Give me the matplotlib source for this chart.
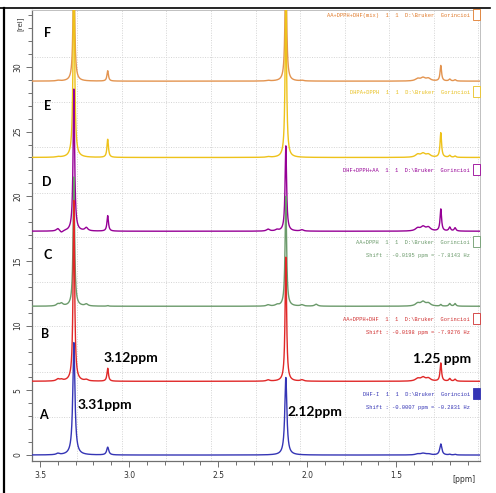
import numpy as np
import matplotlib
matplotlib.use("Agg")
import matplotlib.pyplot as plt
from matplotlib.lines import Line2D
from matplotlib.patches import Rectangle
import matplotlib.transforms as mtransforms

# peak table (ppm, height above baseline per trace)
peak_ppm = [3.40, 3.38, 3.31, 3.24, 3.12, 2.22, 2.17, 2.12, 2.03, 1.95, 1.38, 1.35, 1.32, 1.25, 1.20, 1.17]
peak_width = [0.010, 0.010, 0.005, 0.010, 0.005, 0.010, 0.010, 0.005, 0.010, 0.010, 0.015, 0.015, 0.015, 0.005, 0.006, 0.006]
width_A = [0.010, 0.010, 0.007, 0.010, 0.007, 0.010, 0.010, 0.007, 0.010, 0.010, 0.015, 0.015, 0.015, 0.007, 0.006, 0.006]

height_A = [0.10, 0.00, 8.7, 0.00, 0.60, 0.00, 0.00, 6.0, 0.00, 0.00, 0.08, 0.12, 0.08, 0.85, 0.05, 0.05]
height_B = [0.15, 0.10, 14.0, 0.10, 1.00, 0.10, 0.00, 9.6, 0.10, 0.00, 0.20, 0.28, 0.22, 1.40, 0.20, 0.15]
height_C = [0.15, 0.20, 10.0, 0.15, 0.05, 0.10, 0.10, 8.5, 0.10, 0.15, 0.22, 0.32, 0.22, 0.12, 0.20, 0.20]
height_D = [0.20, -0.15, 11.0, 0.25, 1.20, 0.15, 0.10, 6.6, 0.10, 0.00, 0.22, 0.32, 0.28, 1.70, 0.30, 0.25]
height_E = [0.05, 0.00, 15.0, 0.00, 1.40, 0.05, 0.00, 12.0, 0.00, 0.00, 0.22, 0.28, 0.22, 1.90, 0.15, 0.10]
height_F = [0.05, 0.00, 10.0, 0.00, 0.80, 0.05, 0.00, 10.0, 0.05, 0.00, 0.18, 0.24, 0.20, 1.20, 0.15, 0.10]

baselines = [0.0, 5.7, 11.5, 17.3, 23.0, 28.9]
panel_names = ["A", "B", "C", "D", "E", "F"]
sample_names = ["DHF-I", "AA+DPPH+DHF", "AA+DPPH", "DHF+DPPH+AA", "DHPA+DPPH", "AA+DPPH+DHF(mix)"]
shift_text = ["Shift : -0.0007 ppm = -0.2831 Hz", "Shift : -0.0198 ppm = -7.9276 Hz",
              "Shift : -0.0195 ppm = -7.8143 Hz", None, None, None]
colors = ["#3535b5", "#e02828", "#6b9a6b", "#960096", "#eec21a", "#e39450"]
text_colors = ["#3535b5", "#d03030", "#6b9a6b", "#960096", "#e8c020", "#e07a2a"]

heights = [height_A, height_B, height_C, height_D, height_E, height_F]
widths = [width_A, peak_width, peak_width, peak_width, peak_width, peak_width]

ppm = np.linspace(3.6, 0.95, 6000)


def spectrum(h, w):
    y = np.zeros_like(ppm)
    for p, a, g in zip(peak_ppm, h, w):
        y += a * g ** 2 / ((ppm - p) ** 2 + g ** 2)
    return y


fig = plt.figure(figsize=(4.96, 4.93), dpi=100)
ax = fig.add_axes([32 / 496, 32 / 493, 448 / 496, 451 / 493])

# Bruker style dotted grid
for gx in [3.29, 3.04, 2.79, 2.54, 2.29, 2.04, 1.79, 1.54, 1.29, 1.04]:
    ax.axvline(gx, color="#d4d4d4", ls=(0, (1, 1.5)), lw=0.7, zorder=0)
for gy in [2.94, 6.41, 9.97, 13.37, 16.85, 20.25, 23.8, 27.3, 30.8]:
    ax.axhline(gy, color="#d4d4d4", ls=(0, (1, 1.5)), lw=0.7, zorder=0)

for i in range(6):
    y = baselines[i] + spectrum(heights[i], widths[i])
    ax.plot(ppm, y, color=colors[i], lw=1.0, zorder=10 - i)

ax.set_xlim(3.545, 1.03)
ax.set_ylim(-0.46, 34.4)

ax.set_xticks([3.5, 3.0, 2.5, 2.0, 1.5])
ax.set_xticklabels(["3.5", "3.0", "2.5", "2.0", "1.5"])
ax.set_xticks(np.arange(1.1, 3.55, 0.1), minor=True)
ax.set_yticks([0, 5, 10, 15, 20, 25, 30])
ax.set_yticks(np.arange(0, 35, 1), minor=True)
ax.tick_params(axis="both", which="both", direction="out", color="#707070", width=0.7)
ax.tick_params(axis="both", which="major", length=4, labelsize=5.5, labelcolor="#303030", pad=3)
ax.tick_params(axis="both", which="minor", length=3)
for lab in ax.get_yticklabels():
    lab.set_rotation(90)
    lab.set_va("center")

for s in ["left", "bottom"]:
    ax.spines[s].set_color("#707070")
    ax.spines[s].set_linewidth(0.9)
for s in ["top", "right"]:
    ax.spines[s].set_color("#c0c0c0")
    ax.spines[s].set_linewidth(0.7)

ax.text(-0.02, 0.985, "[rel]", transform=ax.transAxes, rotation=90, fontsize=5,
        color="#303030", ha="right", va="top")
ax.text(0.965, -0.032, "[ppm]", transform=ax.transAxes, fontsize=5.5,
        color="#303030", ha="center", va="top")

narrow = ["Lato", "DejaVu Sans"]
letter_pos = [(3.483, 3.1), (3.47, 9.35), (3.455, 15.5), (3.465, 21.1), (3.46, 27.0), (3.46, 32.6)]
for name, (lx, ly) in zip(panel_names, letter_pos):
    ax.text(lx, ly, name, fontsize=9, fontweight="bold", family=narrow,
            ha="center", va="center", zorder=20)

ppm_labels = ["3.31ppm", "3.12ppm", "2.12ppm", "1.25 ppm"]
ppm_label_x = [3.135, 2.989, 1.955, 1.242]
ppm_label_y = [3.86, 7.5, 3.3, 7.4]
for t, lx, ly in zip(ppm_labels, ppm_label_x, ppm_label_y):
    ax.text(lx, ly, t, fontsize=10, fontweight="bold", family=narrow,
            ha="center", va="center", zorder=20)

# spectrum titles, right aligned, with the little boxes
trans = mtransforms.blended_transform_factory(ax.transAxes, ax.transData)
title_y = [4.7, 10.5, 16.4, 22.0, 28.0, 34.0]
for i in range(6):
    ax.text(0.978, title_y[i], sample_names[i] + "  1  1  D:\\Bruker  Gorincioi",
            transform=trans, fontsize=3.9, family="Liberation Mono",
            color=text_colors[i], ha="right", va="center", zorder=20)
    if shift_text[i]:
        ax.text(0.978, title_y[i] - 1.0, shift_text[i], transform=trans,
                fontsize=3.9, family="Liberation Mono", color=text_colors[i],
                ha="right", va="center", zorder=20)
    box = Rectangle((0.984, title_y[i] - 0.35), 0.016, 0.85, transform=trans,
                    facecolor=colors[i] if i == 0 else "white",
                    edgecolor=colors[i] if i == 0 else text_colors[i],
                    lw=0.6, clip_on=False, zorder=21)
    ax.add_patch(box)

# black frame of the screenshot
fig.add_artist(Line2D([3.5 / 496, 3.5 / 496], [0, 485 / 493], color="black", lw=1.6,
                      transform=fig.transFigure))
fig.add_artist(Line2D([0, 490 / 496], [485 / 493, 485 / 493], color="black", lw=1.2,
                      transform=fig.transFigure))

fig.savefig("out.png", dpi=100)
